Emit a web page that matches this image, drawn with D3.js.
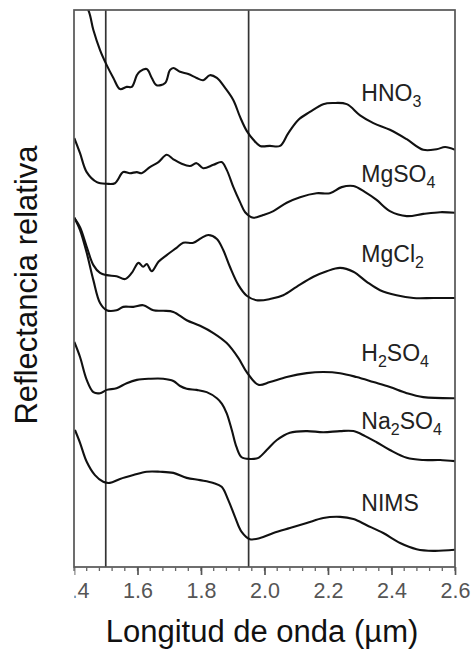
<!DOCTYPE html>
<html>
<head>
<meta charset="utf-8">
<script src="https://cdn.jsdelivr.net/npm/d3@7"></script>
<style>
  body { margin: 0; background: #fff; }
  svg { display: block; font-family: "Liberation Sans", Arial, sans-serif; }
</style>
</head>
<body>
<svg id="chart" width="472" height="650"></svg>
<script>
// Spectra: [wavelength (µm), relative reflectance (arbitrary, offset)]
const hno3 = [[1.413,10.27],[1.445,10.00],[1.461,9.64],[1.482,9.28],[1.503,9.01],[1.524,8.78],[1.545,8.58],
  [1.566,8.62],[1.582,8.62],[1.598,8.83],[1.608,8.90],[1.629,8.94],[1.645,8.78],[1.660,8.65],[1.687,8.69],
  [1.702,8.92],[1.713,8.96],[1.734,8.89],[1.760,8.85],[1.786,8.78],[1.807,8.74],[1.828,8.83],[1.850,8.78],
  [1.876,8.60],[1.902,8.38],[1.923,8.08],[1.944,7.83],[1.965,7.67],[1.986,7.56],[2.017,7.56],[2.049,7.56],
  [2.075,7.79],[2.107,8.03],[2.143,8.17],[2.185,8.31],[2.217,8.33],[2.259,8.31],[2.301,8.11],[2.343,7.97],
  [2.395,7.85],[2.448,7.68],[2.500,7.49],[2.542,7.50],[2.569,7.54],[2.600,7.49]];

const mgso4 = [[1.401,7.70],[1.419,7.43],[1.440,7.09],[1.472,6.91],[1.503,6.88],[1.529,6.89],[1.555,7.09],
  [1.576,7.07],[1.598,7.09],[1.613,7.07],[1.639,7.18],[1.666,7.27],[1.692,7.40],[1.713,7.32],[1.739,7.24],
  [1.765,7.20],[1.786,7.25],[1.807,7.16],[1.839,7.22],[1.865,7.27],[1.881,7.13],[1.902,6.82],[1.923,6.55],
  [1.939,6.37],[1.965,6.27],[1.996,6.32],[2.028,6.39],[2.070,6.54],[2.112,6.64],[2.164,6.71],[2.206,6.71],
  [2.243,6.82],[2.280,6.84],[2.317,6.73],[2.353,6.59],[2.395,6.39],[2.448,6.30],[2.500,6.34],[2.553,6.37],
  [2.600,6.36]];

const mgcl2 = [[1.401,6.27],[1.419,6.10],[1.440,5.75],[1.461,5.42],[1.482,5.28],[1.503,5.24],[1.534,5.22],
  [1.561,5.17],[1.582,5.28],[1.603,5.46],[1.618,5.39],[1.629,5.44],[1.645,5.31],[1.666,5.48],[1.692,5.60],
  [1.723,5.73],[1.744,5.82],[1.776,5.82],[1.802,5.91],[1.823,5.96],[1.850,5.89],[1.870,5.69],[1.891,5.39],
  [1.918,5.06],[1.944,4.87],[1.975,4.79],[2.017,4.81],[2.059,4.88],[2.101,5.03],[2.154,5.21],[2.196,5.31],
  [2.238,5.37],[2.280,5.30],[2.322,5.12],[2.364,4.97],[2.416,4.88],[2.469,4.83],[2.532,4.83],[2.600,4.83]];

const h2so4 = [[1.401,6.27],[1.419,6.05],[1.440,5.64],[1.461,5.15],[1.482,4.74],[1.503,4.61],[1.534,4.61],
  [1.555,4.67],[1.587,4.67],[1.618,4.70],[1.650,4.61],[1.681,4.60],[1.713,4.58],[1.755,4.43],[1.797,4.33],
  [1.839,4.20],[1.881,4.02],[1.918,3.75],[1.944,3.50],[1.981,3.27],[2.017,3.32],[2.070,3.41],[2.133,3.48],
  [2.185,3.50],[2.238,3.48],[2.290,3.41],[2.343,3.32],[2.395,3.23],[2.448,3.12],[2.500,3.05],[2.600,3.03]];

const na2so4 = [[1.401,4.04],[1.419,3.77],[1.440,3.36],[1.461,3.14],[1.482,3.12],[1.503,3.18],[1.534,3.21],
  [1.566,3.30],[1.598,3.36],[1.639,3.38],[1.681,3.38],[1.713,3.34],[1.734,3.25],[1.755,3.20],[1.786,3.18],
  [1.818,3.14],[1.850,3.03],[1.866,2.93],[1.881,2.76],[1.897,2.46],[1.912,2.15],[1.928,1.97],[1.954,1.94],
  [1.981,1.96],[2.007,2.10],[2.039,2.28],[2.080,2.41],[2.133,2.44],[2.185,2.42],[2.238,2.44],[2.280,2.44],
  [2.317,2.35],[2.353,2.24],[2.395,2.10],[2.448,1.96],[2.500,1.92],[2.553,1.92],[2.600,1.90]];

const nims = [[1.403,2.46],[1.419,2.23],[1.440,1.89],[1.466,1.65],[1.492,1.53],[1.513,1.51],[1.545,1.58],
  [1.587,1.65],[1.629,1.71],[1.671,1.71],[1.713,1.69],[1.755,1.60],[1.797,1.56],[1.839,1.51],[1.865,1.44],
  [1.886,1.20],[1.907,0.90],[1.928,0.63],[1.954,0.50],[1.986,0.52],[2.028,0.61],[2.080,0.70],[2.133,0.79],
  [2.185,0.88],[2.238,0.90],[2.280,0.86],[2.322,0.75],[2.374,0.61],[2.427,0.43],[2.479,0.32],[2.532,0.29],
  [2.600,0.31]];

// Curve labels as [text, isSubscript] pieces, plus the reflectance level of each baseline
const labelParts = [
  [['HNO', false], ['3', true]],
  [['MgSO', false], ['4', true]],
  [['MgCl', false], ['2', true]],
  [['H', false], ['2', true], ['SO', false], ['4', true]],
  [['Na', false], ['2', true], ['SO', false], ['4', true]],
  [['NIMS', false]]
];
const labelLevels = [8.36, 6.91, 5.48, 3.70, 2.48, 1.00];
const labelWl = 2.305;

const series = [hno3, mgso4, mgcl2, h2so4, na2so4, nims];
const markerLines = [1.5, 1.95];
const tickValues = [1.4, 1.6, 1.8, 2.0, 2.2, 2.4, 2.6];

const svg = d3.select('#chart');
const margin = { left: 74, right: 17, top: 10, bottom: 83 };
const width = 472 - margin.left - margin.right;
const height = 650 - margin.top - margin.bottom;

const x = d3.scaleLinear().domain([1.4, 2.6]).range([0, width]);
const y = d3.scaleLinear().domain([0, 10]).range([height, 0]);

const g = svg.append('g').attr('transform', `translate(${margin.left},${margin.top})`);

g.append('clipPath').attr('id', 'plot-clip')
  .append('rect').attr('width', width).attr('height', height);

// marker lines
g.selectAll('.marker')
  .data(markerLines)
  .enter()
  .append('line')
  .attr('x1', d => x(d)).attr('x2', d => x(d))
  .attr('y1', 0).attr('y2', height)
  .attr('stroke', '#333')
  .attr('stroke-width', 1.7);

// spectra
const line = d3.line()
  .x(d => x(d[0]))
  .y(d => y(d[1]))
  .curve(d3.curveCatmullRom.alpha(0.5));

g.append('g')
  .attr('clip-path', 'url(#plot-clip)')
  .selectAll('path')
  .data(series)
  .enter()
  .append('path')
  .attr('d', line)
  .attr('fill', 'none')
  .attr('stroke', '#111')
  .attr('stroke-width', 2.1)
  .attr('stroke-linejoin', 'round');

// frame
g.append('rect')
  .attr('width', width).attr('height', height)
  .attr('fill', 'none')
  .attr('stroke', '#555')
  .attr('stroke-width', 1.7);

// minor ticks
const minorTicks = d3.range(0, 31).map(i => 1.4 + i * 0.04);
g.append('g')
  .attr('transform', `translate(0,${height})`)
  .selectAll('line')
  .data(minorTicks)
  .enter()
  .append('line')
  .attr('x1', d => x(d)).attr('x2', d => x(d))
  .attr('y1', 0).attr('y2', 4)
  .attr('stroke', '#666')
  .attr('stroke-width', 1.3);

// major ticks and labels; the leftmost label is cut at the image edge as in the original
svg.append('clipPath').attr('id', 'tick-clip')
  .append('rect').attr('x', 74.5).attr('y', 0).attr('width', 400).attr('height', 650);

const xAxis = d3.axisBottom(x)
  .tickValues(tickValues)
  .tickFormat(d3.format('.1f'))
  .tickSize(8)
  .tickPadding(8);

const axisG = svg.append('g')
  .attr('clip-path', 'url(#tick-clip)')
  .append('g')
  .attr('transform', `translate(${margin.left},${margin.top + height})`)
  .call(xAxis);
axisG.select('.domain').remove();
axisG.selectAll('.tick line').attr('stroke', '#555').attr('stroke-width', 1.7);
axisG.selectAll('.tick text')
  .attr('fill', '#555')
  .style('font-size', '21.5px')
  .style('font-family', '"Liberation Sans", Arial, sans-serif');

// curve labels
labelParts.forEach((parts, i) => {
  const t = g.append('text')
    .attr('x', x(labelWl))
    .attr('y', y(labelLevels[i]))
    .attr('fill', '#222')
    .style('font-size', '23px');
  let prevSub = false;
  parts.forEach(([txt, sub]) => {
    let dy = 0;
    if (sub && !prevSub) dy = 6;
    if (!sub && prevSub) dy = -6;
    t.append('tspan')
      .attr('dy', dy)
      .style('font-size', sub ? '16px' : '23px')
      .text(txt);
    prevSub = sub;
  });
});

// axis titles
svg.append('text')
  .attr('x', 262)
  .attr('y', 642)
  .attr('text-anchor', 'middle')
  .attr('fill', '#111')
  .style('font-size', '31px')
  .text('Longitud de onda (µm)');

svg.append('text')
  .attr('transform', 'translate(37,285) rotate(-90)')
  .attr('text-anchor', 'middle')
  .attr('fill', '#111')
  .style('font-size', '31px')
  .text('Reflectancia relativa');
</script>
</body>
</html>
